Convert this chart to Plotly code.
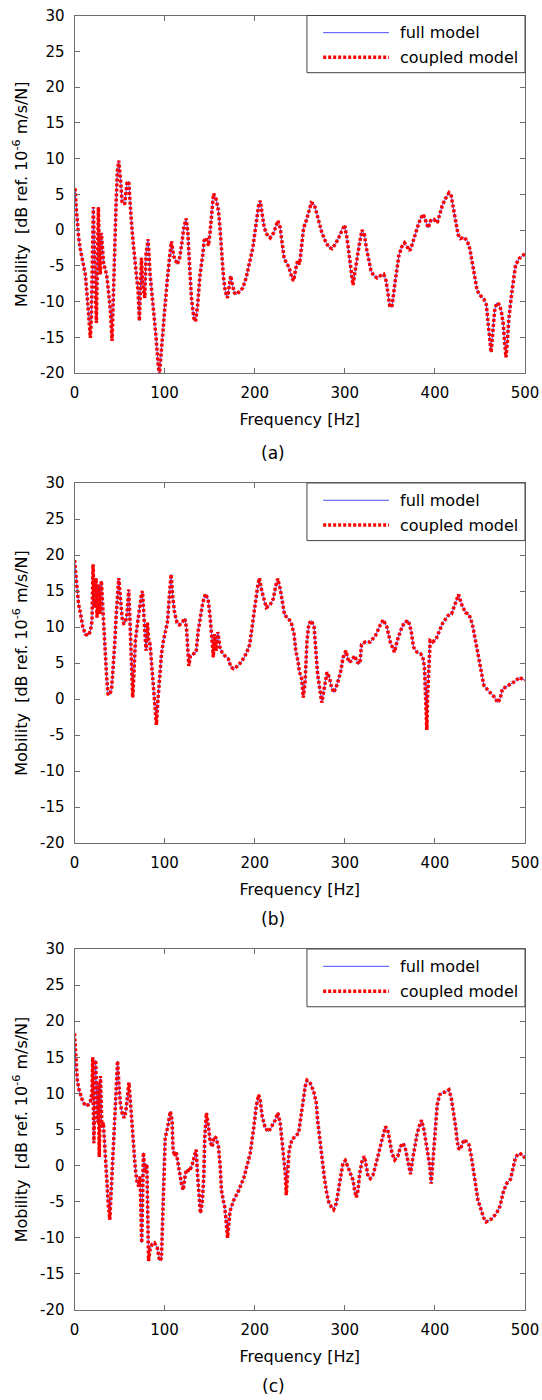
import plotly.graph_objects as go
from plotly.subplots import make_subplots

# ---- data (frequency in Hz, mobility in dB) ----
freq_a = [0, 0.9, 1.7, 2.8, 4.6, 6.5, 9.1, 12, 13.9, 15.7, 17.6, 18.7, 20.2, 20.9, 22.4, 24.3, 25.4, 26.5,
          27.6, 28.7, 29.8, 31.3, 32.4, 34.3, 36.1, 38, 39.8, 41.7, 43.1, 44.6, 46.1, 47.6, 49.1, 50.9, 52.8,
          55.7, 58.3, 60.2, 61.3, 63.1, 65.7, 68.3, 70.6, 72, 74.3, 75.7, 78, 79.4, 81.7, 83.9, 86.1, 88.3,
          90.6, 92.8, 94.3, 95.7, 97.9, 100.2, 102.8, 105.4, 107.6, 110.2, 112, 113.9, 116.5, 119.4, 121.3,
          123.9, 125.7, 127.6, 129.8, 132.4, 134.3, 136.5, 139.4, 142.4, 143.9, 146, 148.7, 150.6, 152.4,
          154.3, 157.2, 159.8, 161.7, 163.5, 165.4, 167.2, 169.8, 172, 173.4, 175.4, 177.6, 180.1, 183.9,
          186.8, 190.5, 194.2, 197.9, 200.5, 202.4, 204.3, 206.1, 208.3, 210.6, 213.5, 217.2, 221, 223.9,
          225.7, 228.3, 230.2, 232.8, 235.7, 238.7, 241.3, 243.2, 245.7, 247.6, 249.8, 252.4, 254.3, 257.2,
          259.8, 262.8, 266.1, 269.1, 272, 274.6, 278.3, 282, 285.7, 289.4, 293.1, 296.9, 299.8, 302.4, 305,
          306.9, 309.1, 310.9, 313.5, 316.1, 319.1, 321.7, 323.9, 326.5, 329.1, 332.1, 335.8, 339.5, 343.2,
          345.8, 348.1, 349.9, 352.2, 354.4, 357, 360, 363, 366.3, 369.3, 372.2, 374.8, 377.8, 381.2, 384.1,
          387.1, 389.7, 392.6, 395.2, 398.9, 402.6, 405.2, 408.1, 411.8, 415.6, 418.1, 420.4, 423, 425.6,
          428.5, 432.2, 435.9, 438.9, 441.5, 444.1, 447, 450.7, 454.4, 457, 459.3, 461.1, 462.4, 464.4,
          466.3, 468.5, 471.1, 473.7, 475.9, 477.6, 478.9, 480.5, 482, 484.6, 487, 489.6, 493.5, 500]
full_a = [5.8, 5.6, 3.5, 1.2, -1.1, -2.7, -4.6, -6.2, -9.0, -12.3, -15.1, -12.3, -4.8, 3.2, -4.8, -13.0,
          -4.8, 3.2, -3.9, -6.2, -0.4, -2.5, -4.8, -5.5, -6.7, -9.0, -11.3, -15.5, -8.1, -2.5, 3.5, 8.2, 9.7,
          7.3, 4.0, 3.6, 6.6, 6.8, 4.2, 1.2, -2.5, -5.8, -8.6, -12.7, -3.9, -7.6, -9.5, -3.4, -1.3, -6.2,
          -9.0, -12.3, -15.1, -18.8, -20.2, -17.9, -14.1, -10.4, -7.2, -3.9, -1.6, -3.7, -4.1, -4.8, -4.1,
          -1.6, 0.3, 1.6, -0.2, -4.8, -9.5, -12.3, -12.8, -10.7, -6.2, -3.4, -1.5, -1.1, -2.2, -0.1, 3.1,
          5.1, 4.3, 2.7, -0.1, -3.9, -6.7, -8.5, -9.5, -7.6, -6.4, -7.8, -8.8, -9.0, -8.5, -8.1, -6.7,
          -4.8, -2.5, -0.1, 1.7, 3.4, 4.1, 2.2, 0.3, -0.6, -1.1, -0.4, 0.6, 1.3, 0.3, -2.0, -4.1, -4.6,
          -5.5, -6.7, -7.1, -5.3, -4.3, -4.8, -2.0, 0.3, 1.3, 2.4, 3.8, 3.6, 2.2, 0.8, -0.4, -1.5, -2.4,
          -2.6, -2.0, -1.1, 0.1, 0.7, -1.1, -3.9, -6.2, -7.7, -6.2, -3.9, -2.0, 0.0, -0.6, -2.5, -4.3,
          -5.7, -6.4, -6.7, -6.4, -6.2, -7.1, -9.0, -10.6, -10.8, -9.0, -6.2, -3.6, -2.4, -1.8, -2.4,
          -2.9, -2.0, -0.6, 0.6, 1.6, 2.2, 1.3, 0.3, 1.3, 1.5, 1.0, 2.2, 3.4, 4.4, 5.2, 4.8, 3.1, 1.0,
          -0.6, -1.2, -1.0, -1.5, -2.7, -4.6, -6.7, -8.5, -9.2, -9.7, -10.4, -13.2, -15.5, -17.1, -14.1,
          -11.3, -10.2, -10.4, -11.3, -13.2, -16.0, -17.8, -15.5, -12.5, -9.5, -6.8, -4.9, -4.0, -3.3]
coupled_a = list(full_a)  # the two models overlap within the line width

freq_b = [0, 1.7, 2.8, 4.6, 6.5, 9.1, 12, 15, 17.6, 19.4, 20.6, 22, 23.9, 25, 26.9, 28.3, 29.8, 31.3,
          32.8, 34.3, 35.7, 37.2, 39.4, 41.3, 43.1, 44.6, 46.1, 47.6, 49.1, 50.9, 52.8, 54.6, 56.5, 58.3,
          60.2, 61.7, 63.1, 64.6, 66.1, 67.6, 69.8, 72, 74.3, 75.4, 76.9, 78, 79.4, 80.9, 82.4, 83.9,
          85.4, 87.2, 88.7, 90.2, 90.9, 92.8, 94.6, 96.5, 98.7, 100.9, 103.1, 105.4, 107.2, 109.1, 111.3,
          113.9, 116.5, 119.4, 122.4, 124.3, 125.4, 126.9, 128.7, 131.3, 135, 137.2, 139.8, 142.4, 145.4,
          148.3, 150.6, 152.2, 154.1, 155.3, 157.2, 159.1, 161.4, 163.7, 166.8, 170.6, 173.7, 176.4,
          181.4, 186, 190.6, 194.5, 197.5, 200.6, 203.3, 205.2, 207.9, 210.2, 212.9, 216.8, 220.6, 223.3,
          225.6, 228.3, 231, 233.3, 236.7, 240.6, 243.7, 245.6, 248.3, 249.4, 252.1, 254, 256, 258, 260,
          262.9, 265.9, 267.9, 269.8, 272.5, 274.4, 277.1, 280.2, 282.9, 285.2, 287.9, 291.7, 295.5,
          298.2, 301.3, 304.4, 307.1, 311, 314, 316.7, 318.6, 322.4, 328.2, 334, 339, 342.6, 346.7, 350.5,
          355.1, 358.2, 362, 365.9, 370.5, 373.6, 376.3, 380.1, 384, 386.6, 388.4, 389.2, 390.3, 391, 392,
          393.5, 394.7, 397.4, 401.2, 405.1, 408.9, 414.7, 418.5, 422.4, 426.2, 430.1, 433.9, 437.7,
          441.6, 444.3, 447.3, 450.4, 454.3, 458.9, 462.7, 466.6, 469.6, 472.3, 475, 478.9, 483.9, 489.6,
          493.5, 500]
full_b = [19.3, 16.8, 15.0, 13.1, 12.0, 10.1, 9.0, 8.8, 9.4, 10.8, 18.7, 12.7, 16.8, 11.3, 15.9, 11.8,
          16.4, 12.7, 9.0, 5.8, 3.0, 0.7, 0.6, 1.6, 4.4, 7.6, 11.3, 14.5, 16.8, 14.1, 11.3, 10.5, 10.6,
          11.8, 15.2, 10.4, 4.8, 0.2, 3.9, 8.1, 10.4, 12.7, 14.5, 15.0, 11.8, 8.1, 6.7, 10.6, 8.1, 7.6,
          5.3, 2.1, -0.2, -2.8, -3.6, 0.2, 3.0, 6.2, 8.1, 9.7, 10.6, 14.5, 17.3, 14.1, 11.8, 10.6, 10.3,
          10.6, 11.2, 9.9, 7.1, 4.6, 6.0, 6.2, 6.5, 9.4, 11.3, 13.4, 14.6, 13.8, 11.3, 8.6, 5.8, 9.0, 6.7,
          9.3, 7.2, 6.5, 6.0, 5.6, 4.4, 4.2, 4.6, 5.3, 6.3, 7.6, 10.0, 13.2, 15.7, 16.8, 15.0, 13.7, 12.7,
          13.0, 13.9, 15.7, 16.7, 15.3, 13.2, 11.6, 11.3, 10.6, 9.0, 6.7, 5.1, 3.9, 2.8, 0.2, 2.5, 8.0,
          10.4, 10.9, 10.0, 6.7, 3.5, 1.2, -0.5, 1.4, 3.7, 3.0, 1.6, 0.9, 2.1, 3.9, 5.8, 6.7, 5.1, 5.3,
          6.0, 5.1, 4.9, 7.6, 7.9, 7.9, 8.8, 10.2, 11.0, 10.0, 7.9, 6.5, 8.1, 9.5, 10.6, 10.9, 9.5, 7.2,
          6.5, 6.3, 5.8, 4.4, 0.7, -3.9, -4.3, 0.7, 4.4, 8.1, 7.9, 8.3, 9.5, 10.6, 11.6, 11.8, 13.2, 14.5,
          13.0, 12.0, 11.8, 10.4, 8.6, 6.5, 4.9, 1.9, 1.2, 0.7, 0.2, -0.5, 0.0, 1.4, 1.7, 2.1, 2.5, 3.0,
          2.6]
coupled_b = list(full_b)

freq_c = [0, 0.9, 1.7, 3.1, 4.6, 6.9, 9.1, 12, 15, 17.6, 19.4, 20.3, 21.5, 23.5, 25.3, 26.3, 27.5, 28.8,
          30.4, 32, 34.2, 36, 37.5, 39.2, 40.6, 42, 43.5, 45, 46.4, 47.8, 49.4, 51, 53, 55, 57, 59, 60.4,
          62, 63.5, 65, 66.5, 68, 69.6, 71.5, 72.8, 74.6, 76.5, 78.3, 80.3, 82.2, 84, 86.1, 88.8, 91.9,
          94.5, 96.5, 97.6, 98.8, 100.7, 103.4, 106.3, 108.3, 109.4, 111.3, 112.8, 114.8, 116.5, 118.7,
          120.6, 123.1, 125, 127.6, 130.6, 133.5, 135, 136.5, 138, 139.8, 141.7, 143.5, 144.6, 146.4,
          148.7, 150.6, 152.8, 155, 157.2, 159.8, 161.7, 163.1, 165.4, 166.8, 168.5, 169.9, 172.6, 176.4,
          182, 187.9, 191.3, 195, 198.7, 201.7, 204.3, 206.1, 208.3, 211.7, 215.4, 219.1, 222.8, 225.7,
          228.3, 230.2, 232, 233.9, 235, 236.5, 238.3, 241.3, 245, 248.7, 251.3, 253.5, 256.1, 258,
          261.7, 265.4, 268.3, 269.8, 271.7, 273.5, 275.4, 277.2, 279.4, 282, 285, 287.6, 290.6, 293.1,
          295.7, 297.9, 300.6, 303.1, 306.1, 309.1, 310.9, 312.8, 314.7, 316.5, 319.1, 321.7, 323.9,
          325.7, 328.3, 331.3, 333.9, 336.5, 339.5, 342.4, 345, 347.6, 349.9, 352.4, 355.4, 358.8, 361.8,
          364.4, 366.9, 369.3, 371.1, 373, 375.2, 377.4, 380.4, 383, 385.2, 387.8, 390.4, 392.6, 394.4,
          395.9, 397.4, 398.9, 400.7, 402.6, 405.2, 408.1, 411.8, 415.6, 418.1, 420.4, 423, 424.8, 426.7,
          429.3, 432.2, 435.2, 437.8, 440.4, 442.6, 445.2, 447.8, 450.7, 454, 457, 462.7, 468.5, 472.3,
          476.2, 480, 483.9, 486.5, 489.6, 493.5, 497.3, 500]
full_c = [18.3, 15.6, 13.5, 11.9, 10.7, 9.6, 8.9, 8.3, 8.4, 8.9, 10.0, 15.0, 3.1, 14.6, 6.0, 11.5, 1.2,
          12.4, 5.3, 6.0, 1.0, -2.5, -5.4, -7.5, -4.0, 0.0, 3.0, 6.5, 11.0, 14.5, 11.0, 8.5, 7.2, 6.6,
          7.5, 9.5, 11.5, 9.0, 6.0, 3.5, 1.2, -1.0, -2.4, -2.9, -1.5, -10.7, 1.8, -1.0, 0.2, -13.2, -11.5,
          -10.9, -10.7, -11.4, -13.2, -12.8, -7.7, -0.7, 3.9, 5.3, 7.5, 6.3, 2.2, 1.3, 1.9, 0.4, -1.1,
          -2.5, -3.4, -1.1, -0.5, -0.8, 0.1, 1.7, 2.2, -1.1, -4.3, -6.6, -5.2, -1.5, 4.0, 7.3, 5.4, 3.3,
          2.6, 4.0, 3.8, 2.6, -0.1, -3.4, -5.0, -5.8, -8.0, -10.0, -6.3, -4.9, -3.5, -1.7, -0.1, 1.7, 5.0,
          8.2, 9.8, 9.1, 6.8, 5.2, 4.7, 5.4, 6.3, 7.3, 5.9, 3.6, 1.3, -1.1, -4.1, -0.1, 2.2, 3.6, 4.0,
          4.5, 6.8, 9.1, 11.0, 11.8, 11.4, 10.3, 8.7, 6.3, 4.0, 2.2, 0.3, -1.5, -3.4, -5.0, -5.7, -6.1,
          -5.2, -3.4, -1.5, 0.3, 0.7, -0.1, -1.1, -2.0, -3.4, -4.4, -3.4, -1.1, 0.6, 1.3, -0.1, -1.5,
          -1.8, -1.3, -0.1, 1.3, 2.6, 4.0, 5.4, 5.0, 3.1, 1.7, 0.8, 1.3, 2.6, 3.1, 2.6, 1.3, -0.1, -1.2,
          0.8, 2.6, 4.5, 5.6, 6.3, 5.0, 3.1, 1.7, -0.1, -2.5, 0.3, 3.1, 6.3, 8.4, 9.8, 10.1, 10.2, 10.5,
          9.4, 7.7, 5.4, 3.3, 2.2, 2.6, 3.6, 3.3, 2.9, 1.3, -0.6, -2.9, -4.8, -5.9, -7.2, -7.8, -7.4,
          -6.6, -5.6, -3.5, -2.4, -1.9, -0.3, 1.2, 1.7, 1.5, 1.0]
coupled_c = list(full_c)

x_ticks = [0, 100, 200, 300, 400, 500]
y_ticks = [-20, -15, -10, -5, 0, 5, 10, 15, 20, 25, 30]
y_tick_text = [str(v) for v in y_ticks]  # plain hyphen minus, as in the figure
panel_labels = ["(a)", "(b)", "(c)"]
legend_names = ["full model", "coupled model"]

FONT = "DejaVu Sans"
BLUE = "#4f4fff"
RED = "#ff0000"
FRAME = "#6e6e6e"

W, H = 542, 1400


def px_x(x):
    return x / W


def px_y(y):
    return 1 - y / H


fig = make_subplots(rows=3, cols=1)

panels = [(freq_a, full_a, coupled_a), (freq_b, full_b, coupled_b), (freq_c, full_c, coupled_c)]
for i, (f, full, coupled) in enumerate(panels, start=1):
    fig.add_trace(
        go.Scatter(x=f, y=full, mode="lines", name=legend_names[0],
                   line=dict(color=BLUE, width=1), showlegend=False),
        row=i, col=1,
    )
    fig.add_trace(
        go.Scatter(x=f, y=coupled, mode="lines", name=legend_names[1],
                   line=dict(color=RED, width=3.5, dash="3px,2px"), showlegend=False),
        row=i, col=1,
    )

x_dom = [px_x(74.5), px_x(525)]
y_doms = [[px_y(373), px_y(15.5)],
          [px_y(843), px_y(483)],
          [px_y(1310), px_y(949)]]
label_y = [px_y(453), px_y(919), px_y(1386)]

axis_common = dict(
    showline=True, linecolor=FRAME, linewidth=1, mirror="ticks",
    ticks="inside", ticklen=5, tickcolor=FRAME, showgrid=False, zeroline=False,
    automargin=False, ticklabeloverflow="allow",
    tickfont=dict(family=FONT, size=15, color="black"),
)

for i in range(3):
    xa = "xaxis" if i == 0 else f"xaxis{i + 1}"
    ya = "yaxis" if i == 0 else f"yaxis{i + 1}"
    fig.layout[xa].update(
        domain=x_dom, range=[0, 500], tickvals=x_ticks, ticklabelstandoff=6,
        title=dict(text="Frequency [Hz]", font=dict(family=FONT, size=16, color="black"), standoff=12),
        **axis_common,
    )
    fig.layout[ya].update(
        domain=y_doms[i], range=[-20, 30], tickvals=y_ticks, ticktext=y_tick_text,
        ticklabelstandoff=6,
        title=dict(text="Mobility  [dB ref. 10<sup>-6</sup> m/s/N]",
                   font=dict(family=FONT, size=16, color="black"), standoff=8),
        **axis_common,
    )

    # boxed legend in the upper right corner of each panel
    xr = "x domain" if i == 0 else f"x{i + 1} domain"
    yr = "y domain" if i == 0 else f"y{i + 1} domain"
    fig.add_shape(type="rect", xref=xr, yref=yr, x0=0.516, x1=1, y0=0.84, y1=1,
                  line=dict(color="#444444", width=1), fillcolor="white")
    fig.add_shape(type="line", xref=xr, yref=yr, x0=0.552, x1=0.698, y0=0.952, y1=0.952,
                  line=dict(color=BLUE, width=1))
    fig.add_shape(type="line", xref=xr, yref=yr, x0=0.552, x1=0.698, y0=0.883, y1=0.883,
                  line=dict(color=RED, width=3.5, dash="3px,2px"))
    for name, yy in zip(legend_names, [0.952, 0.883]):
        fig.add_annotation(xref=xr, yref=yr, x=0.717, y=yy, text=name, showarrow=False,
                           xanchor="left", yanchor="middle",
                           font=dict(family=FONT, size=16, color="black"))

    fig.add_annotation(xref="paper", yref="paper", x=px_x(273), y=label_y[i], text=panel_labels[i],
                       showarrow=False, xanchor="center", yanchor="middle",
                       font=dict(family=FONT, size=17, color="black"))

fig.update_layout(
    width=W, height=H,
    margin=dict(l=0, r=0, t=0, b=0),
    paper_bgcolor="white", plot_bgcolor="white",
    showlegend=False,
)

# drop the default 8 px page margin so the figure fills the window exactly
fig.write_html(
    "out.html",
    config={"displayModeBar": False},
    post_script="document.body.style.margin = '0';",
)
